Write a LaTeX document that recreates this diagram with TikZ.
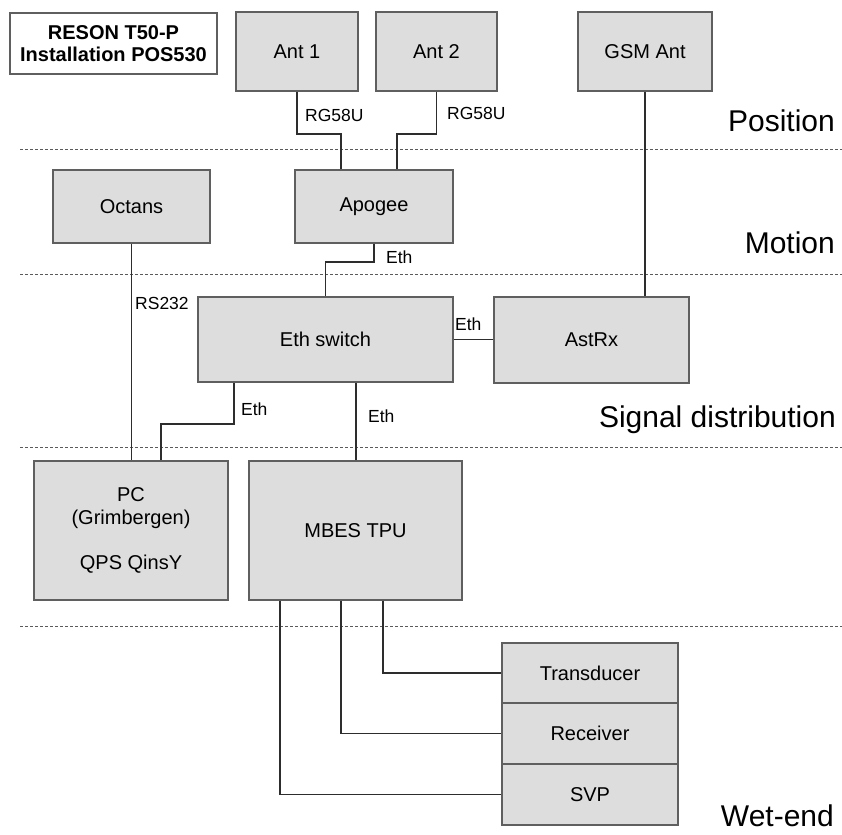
\documentclass[tikz,border=0pt]{standalone}
\usepackage{fontspec}
\setmainfont{Liberation Sans}
\definecolor{boxfill}{RGB}{221,221,221}
\definecolor{boxline}{RGB}{95,95,95}
\definecolor{wirecol}{RGB}{45,45,45}
\definecolor{sepcol}{RGB}{90,90,90}
\begin{document}
\begin{tikzpicture}[x=1pt,y=-1pt,
  box/.style={draw=boxline, fill=boxfill, line width=1.3pt, inner sep=0pt, align=center,
    font=\fontsize{20}{23}\selectfont},
  wire/.style={draw=wirecol, line width=1.2pt},
  lbl/.style={font=\fontsize{17.5}{20}\selectfont, anchor=west, inner sep=0pt},
  sect/.style={font=\fontsize{30}{34}\selectfont, anchor=base east, inner sep=0pt},
  sep/.style={draw=sepcol, line width=1pt, dash pattern=on 3pt off 2pt}]
\useasboundingbox (0,0) rectangle (842,834);

% separators
\draw[sep] (20,150) -- (842,150);
\draw[sep] (20,274) -- (842,274);
\draw[sep] (20,447) -- (842,447);
\draw[sep] (20,626) -- (842,626);

% section labels
\node[sect] (lpos) at (835,132) {Position};
\node[sect] (lmot) at (835,253) {Motion};
\node[sect] (lsig) at (836,427) {Signal distribution};
\node[sect] (lwet) at (834,826) {Wet-end};

% title
\node[box, fill=white, font=\bfseries\fontsize{20}{22}\selectfont,
  minimum width=207pt, minimum height=61pt] (title) at (113.5,43.5)
  {RESON T50-P\\Installation POS530};

% boxes
\node[box, minimum width=122pt, minimum height=79pt] (ant1) at (297,51.5) {Ant 1};
\node[box, minimum width=121pt, minimum height=79pt] (ant2) at (436.5,51.5) {Ant 2};
\node[box, minimum width=134pt, minimum height=79pt] (gsm) at (645,51.5) {GSM Ant};
\node[box, minimum width=157pt, minimum height=73pt] (octans) at (131.5,206.5) {Octans};
\node[box, minimum width=158pt, minimum height=73pt] (apogee) at (374,206.5) {Apogee};
\node[box, minimum width=255pt, minimum height=85pt] (ethsw) at (325.5,339.5) {Eth switch};
\node[box, minimum width=195pt, minimum height=86pt] (astrx) at (591.5,340) {AstRx};
\node[box, minimum width=194pt, minimum height=139pt] (pc) at (131,530.5)
  {PC\\(Grimbergen)\\[22pt]QPS QinsY};
\node[box, minimum width=213pt, minimum height=139pt] (mbes) at (355.5,530.5) {MBES TPU};
\node[box, minimum width=176pt, minimum height=60pt] (trans) at (590,673) {Transducer};
\node[box, minimum width=176pt, minimum height=61pt] (recv) at (590,733.5) {Receiver};
\node[box, minimum width=176pt, minimum height=61pt] (svp) at (590,794.5) {SVP};

% connectors
\draw[wire] (ant1.south) -- (297,134) -- (341,134) -- (apogee.north -| 341,134);
\draw[wire] (ant2.south) -- (436.5,134) -- (397,134) -- (apogee.north -| 397,134);
\draw[wire] (gsm.south) -- (astrx.north -| gsm.south);
\draw[wire] (octans.south) -- (pc.north -| octans.south);
\draw[wire] (apogee.south) -- (374,262) -- (325.5,262) -- (ethsw.north);
\draw[wire] (ethsw.east) -- (astrx.west |- ethsw.east);
\draw[wire] (ethsw.south -| 234,0) -- (234,424) -- (161,424) -- (pc.north -| 161,0);
\draw[wire] (ethsw.south -| 356,0) -- (mbes.north -| 356,0);
\draw[wire] (mbes.south -| 383,0) |- (trans.west);
\draw[wire] (mbes.south -| 341,0) |- (recv.west);
\draw[wire] (mbes.south -| 280,0) |- (svp.west);

% connector labels
\node[lbl] (l1) at (305,115) {RG58U};
\node[lbl] (l2) at (447,113) {RG58U};
\node[lbl] (l3) at (386,257) {Eth};
\node[lbl] (l4) at (135,303) {RS232};
\node[lbl] (l5) at (455,324) {Eth};
\node[lbl] (l6) at (241,409) {Eth};
\node[lbl] (l7) at (368,416) {Eth};
\end{tikzpicture}
\end{document}
